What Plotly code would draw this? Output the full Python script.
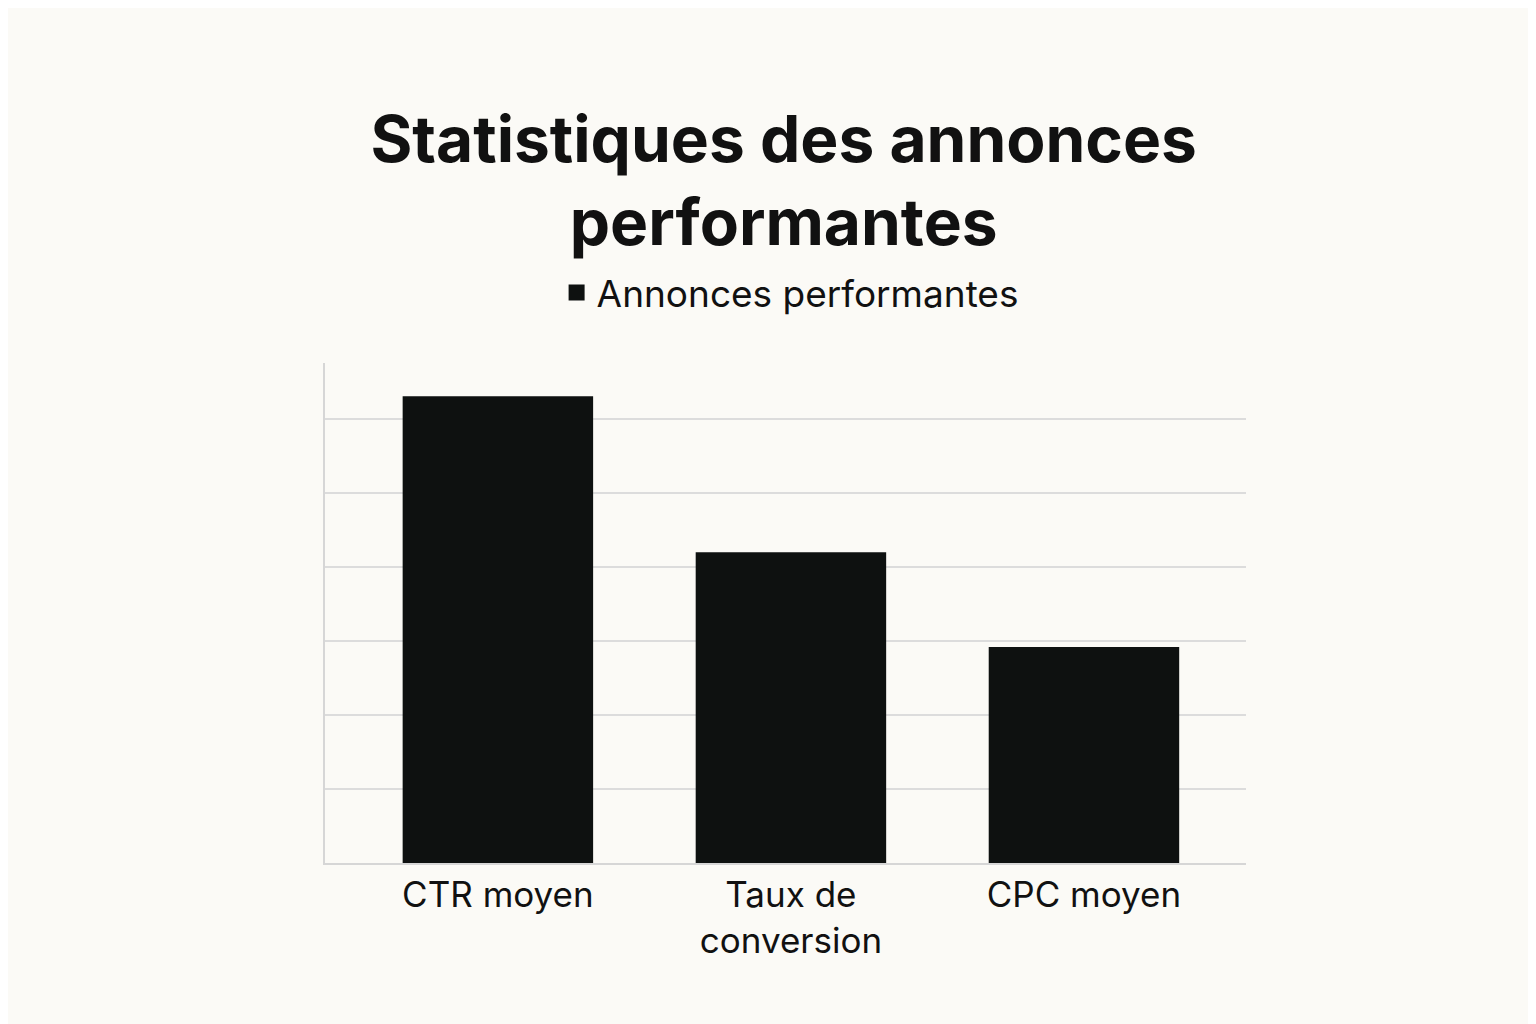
import plotly.graph_objects as go

categories = ["CTR moyen", "Taux de<br>conversion", "CPC moyen"]
values = [6.31, 4.2, 2.92]
series_name = "Annonces performantes"

fig = go.Figure()
fig.add_trace(go.Bar(x=categories, y=values, name=series_name, showlegend=False,
                     marker=dict(color="#0E1110", line=dict(width=0)), width=0.65))
fig.add_trace(go.Scatter(x=[None], y=[None], mode="markers", name=series_name,
                         marker=dict(symbol="square", size=34, color="#0E1110")))
fig.update_layout(
    width=1536, height=1024,
    paper_bgcolor="#FBFAF6", plot_bgcolor="#FBFAF6",
    margin=dict(l=317, r=298, t=355, b=169),
    title=dict(text="<b>Statistiques des annonces<br>performantes</b>", x=0.505, xanchor="center",
               y=0.85, yanchor="middle", font=dict(family="Inter, Noto Sans", size=64, color="#111")),
    showlegend=True,
    legend=dict(orientation="h", x=0.505, xanchor="center", y=1.14, yanchor="middle",
                font=dict(family="Inter, Noto Sans", size=37, color="#111"), itemsizing="trace"),
    font=dict(family="Inter, Noto Sans", color="#111"),
)
fig.update_xaxes(tickfont=dict(size=35, color="#111"), showline=True, linecolor="#D6D6D6", linewidth=2,
                 ticks="", range=[-0.59, 2.553])
fig.update_yaxes(range=[0, 6.76], dtick=1, showticklabels=False, gridcolor="#DCDCDC", gridwidth=2,
                 showline=True, linecolor="#D6D6D6", linewidth=2, zeroline=False)
fig.write_html("out.html")
